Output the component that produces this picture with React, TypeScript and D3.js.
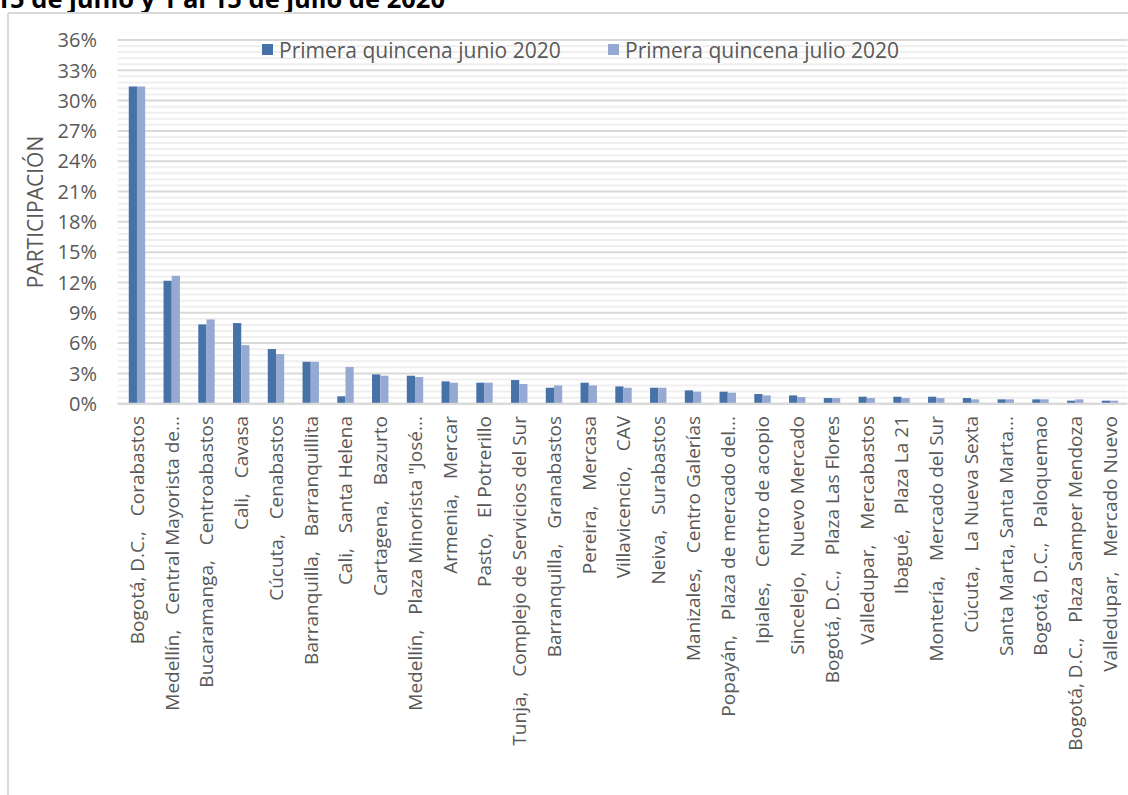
import React from "react";
import * as d3 from "d3";

const categories = [
  "Bogotá, D.C.,   Corabastos",
  "Medellín,   Central Mayorista de...",
  "Bucaramanga,   Centroabastos",
  "Cali,   Cavasa",
  "Cúcuta,   Cenabastos",
  "Barranquilla,   Barranquillita",
  "Cali,   Santa Helena",
  "Cartagena,   Bazurto",
  "Medellín,   Plaza Minorista \"José...",
  "Armenia,   Mercar",
  "Pasto,   El Potrerillo",
  "Tunja,   Complejo de Servicios del Sur",
  "Barranquilla,   Granabastos",
  "Pereira,   Mercasa",
  "Villavicencio,   CAV",
  "Neiva,   Surabastos",
  "Manizales,   Centro Galerías",
  "Popayán,   Plaza de mercado del...",
  "Ipiales,   Centro de acopio",
  "Sincelejo,   Nuevo Mercado",
  "Bogotá, D.C.,   Plaza Las Flores",
  "Valledupar,   Mercabastos",
  "Ibagué,   Plaza La 21",
  "Montería,   Mercado del Sur",
  "Cúcuta,   La Nueva Sexta",
  "Santa Marta, Santa Marta...",
  "Bogotá, D.C.,   Paloquemao",
  "Bogotá, D.C.,   Plaza Samper Mendoza",
  "Valledupar,   Mercado Nuevo",
];

const junio = [
  31.4, 12.17, 7.85, 7.98, 5.41, 4.15, 0.73, 2.9, 2.77, 2.21, 2.08, 2.34, 1.58,
  2.08, 1.71, 1.58, 1.32, 1.19, 0.96, 0.82, 0.56, 0.69, 0.69, 0.69, 0.56, 0.43,
  0.43, 0.3, 0.3,
];

const julio = [
  31.4, 12.66, 8.34, 5.8, 4.91, 4.15, 3.63, 2.77, 2.64, 2.08, 2.08, 1.95, 1.81,
  1.81, 1.58, 1.58, 1.19, 1.09, 0.82, 0.66, 0.56, 0.56, 0.56, 0.56, 0.43, 0.43,
  0.43, 0.43, 0.3,
];

const seriesNames = ["Primera quincena junio 2020", "Primera quincena julio 2020"];
const yTicks = [0, 3, 6, 9, 12, 15, 18, 21, 24, 27, 30, 33, 36];
const titleText = "15 de junio y 1 al 15 de julio de 2020";
const yAxisTitle = "PARTICIPACIÓN";

const COLORS = ["#4672A8", "#95A9D2"];
const FONT = "'Open Sans', 'Noto Sans', sans-serif";
const TEXT = "#595959";

export default function App() {
  const W = 1128;
  const H = 795;
  const left = 119.6;
  const right = 1127.4;
  const y0 = 403.7;
  const yTop = 40;

  const x = d3.scaleBand<string>().domain(categories).range([left, right]).padding(0);
  const step = x.step();
  const barW = 8.2;
  const xs = d3
    .scaleBand<string>()
    .domain(seriesNames)
    .range([step / 2 - barW, step / 2 + barW])
    .padding(0);
  const y = d3.scaleLinear().domain([0, 36]).range([y0, yTop]);

  const minor = d3
    .range(0, 36.001, 0.6)
    .filter((v) => Math.abs(v / 3 - Math.round(v / 3)) > 1e-6);

  const series = [junio, julio];

  return (
    <svg
      width={W}
      height={H}
      style={{ position: "absolute", left: 0, top: 0, background: "#fff" }}
      fontFamily={FONT}
    >
      <rect x={0} y={0} width={W} height={H} fill="#fff" />
      {/* title (cut at top, as in the source image) */}
      <text x={445} y={7.5} textAnchor="end" fontWeight="bold" fontSize={25.5} fill="#000">
        {titleText}
      </text>
      {/* chart border */}
      <line x1={8} x2={W} y1={13} y2={13} stroke="#d9d9d9" strokeWidth={2} />
      <line x1={8} x2={8} y1={13} y2={H} stroke="#d9d9d9" strokeWidth={2} />

      {/* minor gridlines */}
      {minor.map((v) => (
        <line
          key={"m" + v}
          x1={left - 2}
          x2={right}
          y1={y(v)}
          y2={y(v)}
          stroke="#efefef"
          strokeWidth={2}
        />
      ))}
      {/* major gridlines */}
      {yTicks.map((v) => (
        <line
          key={"g" + v}
          x1={left - 2}
          x2={right}
          y1={y(v)}
          y2={y(v)}
          stroke="#d9d9d9"
          strokeWidth={2}
        />
      ))}

      {/* y tick labels */}
      {yTicks.map((v) => (
        <text
          key={"t" + v}
          x={97}
          y={y(v)}
          dy="0.36em"
          textAnchor="end"
          fontSize={20}
          fill={TEXT}
        >
          {v + "%"}
        </text>
      ))}

      {/* y axis title */}
      <text
        transform={`translate(35,212) rotate(-90)`}
        textAnchor="middle"
        dy="0.36em"
        fontSize={21}
        fill={TEXT}
      >
        {yAxisTitle}
      </text>

      {/* bars */}
      {categories.map((c, i) => (
        <g key={c} transform={`translate(${x(c)},0)`}>
          {series.map((s, k) => (
            <rect
              key={k}
              x={xs(seriesNames[k])}
              y={y(s[i])}
              width={xs.bandwidth()}
              height={y0 - y(s[i])}
              fill={COLORS[k]}
            />
          ))}
        </g>
      ))}

      {/* x axis line */}
      <line x1={left - 2} x2={right} y1={y0} y2={y0} stroke="#d9d9d9" strokeWidth={2} />

      {/* x labels */}
      {categories.map((c) => (
        <text
          key={"l" + c}
          transform={`translate(${(x(c) as number) + step / 2},416) rotate(-90)`}
          textAnchor="end"
          dy="0.36em"
          fontSize={19}
          fill={TEXT}
          style={{ whiteSpace: "pre" }}
        >
          {c}
        </text>
      ))}

      {/* legend */}
      {seriesNames.map((n, k) => {
        const lx = [262, 608][k];
        return (
          <g key={n}>
            <rect x={lx} y={44} width={11} height={11} fill={COLORS[k]} />
            <text x={lx + 17} y={50} dy="0.36em" fontSize={21} fill={TEXT}>
              {n}
            </text>
          </g>
        );
      })}
    </svg>
  );
}
